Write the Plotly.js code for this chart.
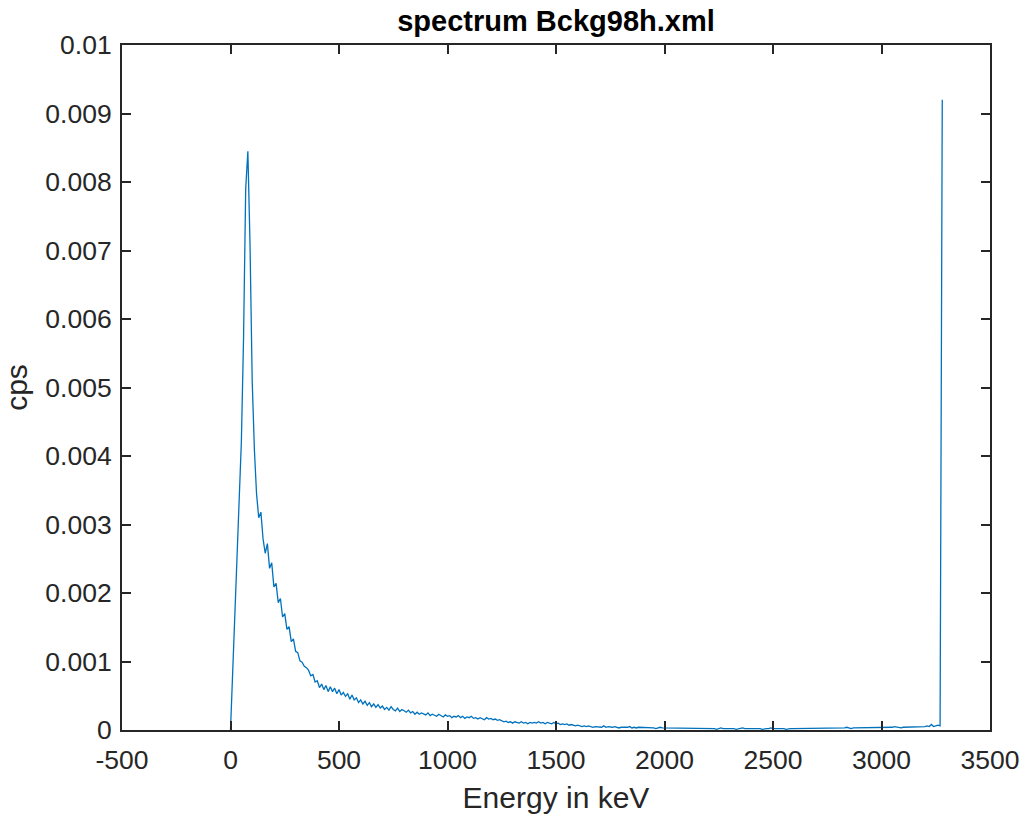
<!DOCTYPE html>
<html>
<head>
<meta charset="utf-8">
<script src="https://cdn.plot.ly/plotly-3.0.1.min.js"></script>
<style>
  html, body { margin: 0; padding: 0; background: #ffffff; }
  #chart { width: 1020px; height: 814px; }
</style>
</head>
<body>
<div id="chart"></div>
<script>
// Channel energies start at 0 keV with a constant width of 10 keV per channel.
const channelStartKeV = 0;
const channelWidthKeV = 10;

// Count rate (cps) per channel.
const cps = [
  // 0 - 90 keV
  0, 0.0009, 0.0018, 0.0027, 0.0034, 0.0042, 0.0057, 0.0079, 0.00845, 0.00708,
  // 100 - 190
  0.0051, 0.0041, 0.00345, 0.0031, 0.00318, 0.00279, 0.00258, 0.00272, 0.00236, 0.00244,
  // 200 - 290
  0.00209, 0.00214, 0.00186, 0.00192, 0.00165, 0.0017, 0.00147, 0.00151, 0.00129, 0.00133,
  // 300 - 390
  0.00115, 0.00113, 0.00101, 0.00099, 0.00093, 0.00091, 0.00087, 0.00079, 0.00081, 0.0007,
  // 400 - 490
  0.00072, 0.00062, 0.00067, 0.00059, 0.00065, 0.00056, 0.00063, 0.00056, 0.00061, 0.00053,
  // 500 - 590
  0.00059, 0.00051, 0.00055, 0.00049, 0.00053, 0.00045, 0.00051, 0.00044, 0.00047, 0.0004,
  // 600 - 690
  0.00044, 0.00038, 0.00042, 0.00036, 0.0004, 0.00034, 0.00038, 0.00033, 0.00037, 0.00032,
  // 700 - 790
  0.00035, 0.0003, 0.00033, 0.00029, 0.00034, 0.0003, 0.00028, 0.00032, 0.00027, 0.0003,
  // 800 - 890
  0.00028, 0.00026, 0.00029, 0.00025, 0.00027, 0.00023, 0.00026, 0.00023, 0.00025, 0.00023,
  // 900 - 990
  0.00022, 0.00025, 0.00021, 0.00023, 0.00022, 0.0002, 0.00023, 0.00021, 0.00019, 0.00022,
  // 1000 - 1090
  0.0002, 0.00021, 0.00018, 0.0002, 0.00019, 0.00021, 0.00018, 0.0002, 0.00017, 0.00019,
  // 1100 - 1190
  0.00018, 0.0002, 0.00017, 0.00018, 0.00016, 0.00018, 0.00017, 0.00015, 0.00018, 0.00016,
  // 1200 - 1290
  0.00017, 0.00015, 0.00016, 0.00014, 0.00015, 0.00013, 0.00012, 0.00013, 0.00011, 0.00012,
  // 1300 - 1390
  0.0001, 0.00012, 0.00011, 0.0001, 0.00012, 0.0001, 0.00011, 0.00009, 0.00011, 0.0001,
  // 1400 - 1490
  0.00011, 0.0001, 0.00012, 0.0001, 0.00011, 0.00009, 0.00011, 0.0001, 0.00009, 0.00011,
  // 1500 - 1590
  0.00009, 0.0001, 0.00008, 0.00009, 0.00008, 0.00009, 0.00007, 0.00008, 0.00007, 0.00006,
  // 1600 - 1690
  0.00007, 0.00006, 0.00005, 0.00006, 0.00005, 0.00006, 0.00005, 0.00004, 0.00005, 0.00005,
  // 1700 - 1790
  0.00005, 0.00004, 0.00006, 0.00004, 0.00005, 0.00004, 0.00004, 0.00005, 0.00004, 0.00003,
  // 1800 - 1890
  0.00004, 0.00004, 0.00003, 0.00004, 0.00005, 0.00003, 0.00004, 0.00003, 0.00004, 0.00004,
  // 1900 - 1990
  0.00003, 0.00004, 0.00003, 0.00003, 0.00004, 0.00003, 0.00002, 0.00003, 0.00004, 0.00003,
  // 2000 - 2090
  0.00003, 0.00002, 0.00003, 0.00003, 0.00002, 0.00003, 0.00002, 0.00003, 0.00003, 0.00002,
  // 2100 - 2190
  0.00003, 0.00002, 0.00002, 0.00003, 0.00002, 0.00003, 0.00002, 0.00002, 0.00003, 0.00002,
  // 2200 - 2290
  0.00002, 0.00003, 0.00002, 0.00002, 0.00001, 0.00002, 0.00003, 0.00002, 0.00002, 0.00002,
  // 2300 - 2390
  0.00003, 0.00002, 0.00002, 0.00001, 0.00002, 0.00002, 0.00003, 0.00002, 0.00002, 0.00002,
  // 2400 - 2490
  0.00002, 0.00002, 0.00003, 0.00002, 0.00002, 0.00001, 0.00002, 0.00002, 0.00002, 0.00003,
  // 2500 - 2590
  0.00002, 0.00002, 0.00002, 0.00003, 0.00002, 0.00002, 0.00001, 0.00002, 0.00002, 0.00002,
  // 2600 - 2690
  0.00002, 0.00003, 0.00002, 0.00002, 0.00002, 0.00003, 0.00002, 0.00002, 0.00003, 0.00002,
  // 2700 - 2790
  0.00002, 0.00003, 0.00003, 0.00002, 0.00003, 0.00002, 0.00003, 0.00002, 0.00003, 0.00003,
  // 2800 - 2890
  0.00003, 0.00002, 0.00003, 0.00003, 0.00004, 0.00003, 0.00002, 0.00003, 0.00003, 0.00004,
  // 2900 - 2990
  0.00003, 0.00003, 0.00004, 0.00003, 0.00003, 0.00004, 0.00003, 0.00004, 0.00003, 0.00003,
  // 3000 - 3090
  0.00004, 0.00003, 0.00004, 0.00004, 0.00003, 0.00004, 0.00005, 0.00004, 0.00004, 0.00003,
  // 3100 - 3190
  0.00004, 0.00004, 0.00005, 0.00004, 0.00004, 0.00005, 0.00004, 0.00005, 0.00005, 0.00004,
  // 3200 - 3280
  0.00005, 0.00006, 0.00005, 0.00008, 0.00005, 0.00006, 0.00007, 0.00006, 0.0092
];

// Axis ticks and labels as printed in the reference.
const xTickValues = [-500, 0, 500, 1000, 1500, 2000, 2500, 3000, 3500];
const xTickLabels = ["-500", "0", "500", "1000", "1500", "2000", "2500", "3000", "3500"];
const yTickValues = [0, 0.001, 0.002, 0.003, 0.004, 0.005, 0.006, 0.007, 0.008, 0.009, 0.01];
const yTickLabels = ["0", "0.001", "0.002", "0.003", "0.004", "0.005", "0.006", "0.007", "0.008", "0.009", "0.01"];

const chartTitle = "spectrum Bckg98h.xml";
const xTitle = "Energy in keV";
const yTitle = "cps";

const energy = cps.map((_, i) => channelStartKeV + i * channelWidthKeV);

const ink = "#262626";
const fontFamily = "'Liberation Sans', Arial, Helvetica, sans-serif";

const trace = {
  type: "scatter",
  mode: "lines",
  x: energy,
  y: cps,
  line: { color: "#0072BD", width: 1.3 },
  hoverinfo: "x+y"
};

const axisCommon = {
  showline: true,
  linecolor: ink,
  linewidth: 2,
  mirror: "ticks",
  ticks: "inside",
  ticklen: 9,
  tickwidth: 2,
  tickcolor: ink,
  showgrid: false,
  zeroline: false,
  tickfont: { family: fontFamily, size: 26.5, color: ink },
  automargin: false
};

const layout = {
  width: 1020,
  height: 814,
  paper_bgcolor: "#ffffff",
  plot_bgcolor: "#ffffff",
  margin: { l: 122, r: 30, t: 45, b: 84 },
  showlegend: false,
  title: {
    text: "<b>" + chartTitle + "</b>",
    font: { family: fontFamily, size: 29, color: "#000000" },
    x: 0.5,
    xanchor: "center",
    xref: "paper",
    yref: "container",
    y: 1 - 21 / 814,
    yanchor: "middle"
  },
  xaxis: Object.assign({}, axisCommon, {
    range: [-500, 3500],
    tickmode: "array",
    tickvals: xTickValues,
    ticktext: xTickLabels,
    ticklabelstandoff: 5,
    title: { text: xTitle, font: { family: fontFamily, size: 30, color: ink }, standoff: 14 }
  }),
  yaxis: Object.assign({}, axisCommon, {
    range: [0, 0.01],
    tickmode: "array",
    tickvals: yTickValues,
    ticktext: yTickLabels,
    ticklabelstandoff: 3,
    title: { text: yTitle, font: { family: fontFamily, size: 30, color: ink }, standoff: 12 }
  })
};

Plotly.newPlot("chart", [trace], layout, { displayModeBar: false, staticPlot: true });
</script>
</body>
</html>
